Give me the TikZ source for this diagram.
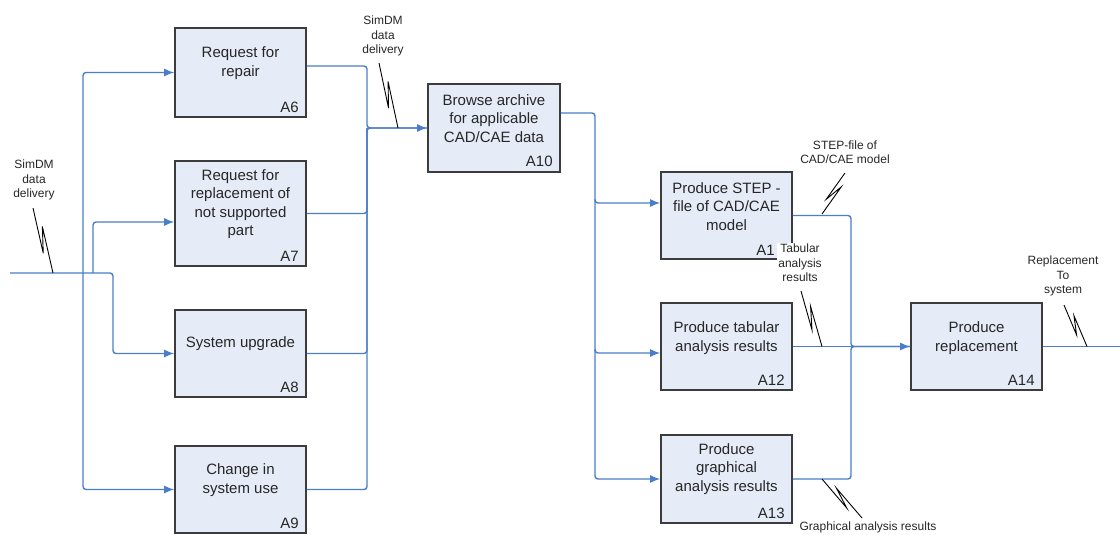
\documentclass[tikz,border=0pt]{standalone}
\usepackage{fontspec}
\setmainfont{Liberation Sans}
\usetikzlibrary{calc,arrows.meta}
\definecolor{flowblue}{RGB}{74,126,200}
\definecolor{boxfill}{RGB}{230,236,247}
\definecolor{boxedge}{RGB}{60,60,60}
\begin{document}
\begin{tikzpicture}[x=1pt,y=-1pt,
  box/.style={draw=boxedge, line width=1.6pt, fill=boxfill, inner sep=0pt, minimum width=131pt},
  btext/.style={align=center, font=\fontsize{15}{18.5}\selectfont, text=black!85, inner sep=0pt},
  num/.style={anchor=base east, font=\fontsize{15}{18}\selectfont, text=black!85, inner sep=0pt},
  lab/.style={align=center, font=\fontsize{12}{14.5}\selectfont, text=black!85, inner sep=1pt},
  line/.style={draw=flowblue, line width=1.4pt, rounded corners=3pt},
  flow/.style={line, -{Latex[length=10pt,width=8pt]}},
  squig/.style={draw=black, line width=0.9pt,
    to path={-- ($(\tikztostart)!0.68!(\tikztotarget)!3.5pt!-90:(\tikztotarget)$)
             -- ($(\tikztostart)!0.3!(\tikztotarget)!3.5pt!90:(\tikztotarget)$)
             -- (\tikztotarget)}}]
\useasboundingbox (0,0) rectangle (1120,535);
\clip (0,0) rectangle (1120,535);

% boxes
\node[box, minimum height=89pt] (A6) at (240.5,72.5) {};
\node[box, minimum height=105pt] (A7) at (240.5,213.5) {};
\node[box, minimum height=87pt] (A8) at (240.5,353.5) {};
\node[box, minimum height=87pt] (A9) at (240.5,489.5) {};
\node[box, minimum width=132pt, minimum height=88pt] (A10) at (494,128) {};
\node[box, minimum height=87pt] (A1) at (726.5,215.5) {};
\node[box, minimum height=87pt] (A12) at (726.5,346.5) {};
\node[box, minimum height=88pt] (A13) at (726.5,479) {};
\node[box, minimum height=87pt] (A14) at (976.5,346.5) {};

% box texts
\node[btext] (t6) at (240.5,63) {Request for\\repair};
\node[btext] (t7) at (240.5,204) {Request for\\replacement of\\not supported\\part};
\node[btext] (t8) at (240.5,344) {System upgrade};
\node[btext] (t9) at (240.5,480) {Change in\\system use};
\node[btext] (t10) at (494,118.5) {Browse archive\\for applicable\\CAD/CAE data};
\node[btext] (t1) at (726.5,206.5) {Produce STEP -\\file of CAD/CAE\\model};
\node[btext] (t12) at (726.5,338) {Produce tabular\\analysis results};
\node[btext] (t13) at (726.5,469) {Produce\\graphical\\analysis results};
\node[btext] (t14) at (976.5,338) {Produce\\replacement};

% box numbers
\node[num] (n6) at ($(A6.south east)+(-8,-5)$) {A6};
\node[num] (n7) at ($(A7.south east)+(-8,-5)$) {A7};
\node[num] (n8) at ($(A8.south east)+(-8,-5)$) {A8};
\node[num] (n9) at ($(A9.south east)+(-8,-5)$) {A9};
\node[num] (n10) at ($(A10.south east)+(-8,-6)$) {A10};
\node[num] (n1) at ($(A1.south east)+(-18,-4)$) {A1};
\node[num] (n12) at ($(A12.south east)+(-8,-5)$) {A12};
\node[num] (n13) at ($(A13.south east)+(-8,-5)$) {A13};
\node[num] (n14) at ($(A14.south east)+(-8,-5)$) {A14};

% coordinates
\coordinate (in) at (10,273);
\coordinate (j6) at (83,273);
\coordinate (j7) at (93,273);
\coordinate (j8) at (113,353.5);
\coordinate (a7in) at ($(A7.west)+(0,8.5)$);
\coordinate (a6out) at ($(A6.east)+(0,-6.5)$);
\coordinate (m) at (367,128);
\coordinate (a10out) at ($(A10.east)+(0,-15)$);
\coordinate (dbot) at (595,479);
\coordinate (d1) at (595,199);
\coordinate (d12) at (595,349);
\coordinate (a1in) at ($(A1.west)+(0,-12.5)$);
\coordinate (a12in) at ($(A12.west)+(0,6.5)$);
\coordinate (n) at (851,346.5);
\coordinate (out) at (1124,346.5);

% left distribution
\draw[flow] (in) -| (j8) -- (A8.west);
\draw[flow] (j6) |- (A6.west);
\draw[flow] (j6) |- (A9.west);
\draw[flow] (j7) |- (a7in);

% merge into A10
\draw[line] (A9.east) -| (m) -- (A10.west);
\draw[line] (A7.east) -| (m);
\draw[line] (A8.east) -| (m);
\draw[flow] (a6out) -| (m) -- (A10.west);

% distribution from A10
\draw[flow] (a10out) -| (dbot) -- (A13.west);
\draw[flow] (d1) |- (a1in);
\draw[flow] (d12) |- (a12in);

% merge into A14
\draw[line] (A1.east) -| (n) -- (A14.west);
\draw[line] (A13.east) -| (n) -- (A14.west);
\draw[flow] (A12.east) -- (A14.west);
\draw[line] (A14.east) -- (out);

% labels
\node[lab] (L1) at (34,180) {SimDM\\data\\delivery};
\node[lab] (L2) at (383,36) {SimDM\\data\\delivery};
\node[lab] (L3) at (845,152) {STEP-file of\\CAD/CAE model};
\node[lab, fill=white] (L4) at (800,263) {Tabular\\analysis\\results};
\node[lab] (L5) at (1063,276) {Replacement\\To\\system};
\node[lab] (L6) at (868,527) {Graphical analysis results};

% squiggles
\coordinate (s1a) at (33,208);   \coordinate (s1b) at (53,273);
\coordinate (s2a) at (379,63);   \coordinate (s2b) at (398,128);
\coordinate (s3a) at (845,173);  \coordinate (s3b) at (822,214);
\coordinate (s4a) at (801,291);  \coordinate (s4b) at (822,346.5);
\coordinate (s5a) at (1064,305); \coordinate (s5b) at (1087,346.5);
\coordinate (s6a) at (822,479);  \coordinate (s6b) at (862,518);
\draw[squig] (s1a) to (s1b);
\draw[squig] (s2a) to (s2b);
\draw[squig] (s3a) to (s3b);
\draw[squig] (s4a) to (s4b);
\draw[squig] (s5a) to (s5b);
\draw[squig] (s6a) to (s6b);
\end{tikzpicture}
\end{document}
